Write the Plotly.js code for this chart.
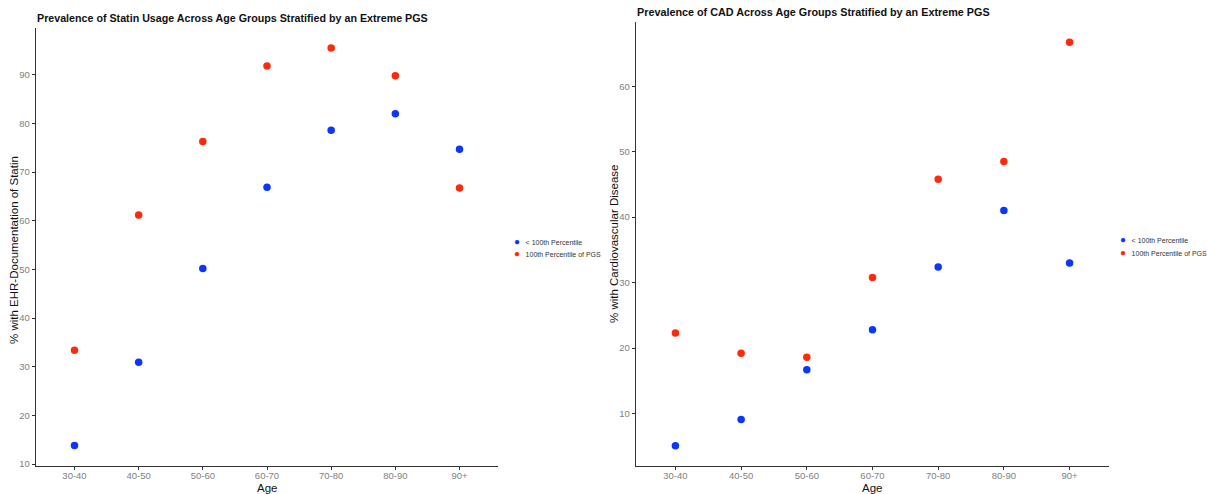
<!DOCTYPE html>
<html>
<head>
<meta charset="utf-8">
<script src="https://cdn.plot.ly/plotly-3.0.1.min.js"></script>
<style>html,body{margin:0;padding:0;background:#fff}#chart{width:1207px;height:494px}</style>
</head>
<body>
<div id="chart"></div>
<script>
const ageGroups = ["30-40","40-50","50-60","60-70","70-80","80-90","90+"];
const statinBelow = [13.8, 30.9, 50.2, 66.9, 78.6, 82.0, 74.7];
const statinTop = [33.4, 61.2, 76.3, 91.8, 95.5, 89.8, 66.7];
const cadBelow = [5.1, 9.1, 16.7, 22.8, 32.4, 41.0, 33.0];
const cadTop = [22.3, 19.2, 18.6, 30.8, 45.8, 48.5, 66.7];
const seriesNames = ["< 100th Percentile", "100th Percentile of PGS"];
const colors = ["#0a36ff", "#ff2a0a"];
const xTitle = "Age";
const yTitles = ["% with EHR-Documentation of Statin", "% with Cardiovascular Disease"];
const titles = ["Prevalence of Statin Usage Across Age Groups Stratified by an Extreme PGS",
                "Prevalence of CAD Across Age Groups Stratified by an Extreme PGS"];

const font = "Liberation Sans, Arial, sans-serif";
function tr(y, i, xa, ya){
  return {x: ageGroups, y: y, type: "scatter", mode: "markers", name: seriesNames[i],
    xaxis: xa, yaxis: ya, showlegend: false,
    marker: {color: colors[i], size: 7.5}};
}
const data = [
  tr(statinBelow, 0, "x", "y"),
  tr(statinTop, 1, "x", "y"),
  tr(cadBelow, 0, "x2", "y2"),
  tr(cadTop, 1, "x2", "y2")
];
function esc(s){ return s.replace(/&/g,"&amp;").replace(/</g,"&lt;").replace(/>/g,"&gt;"); }
function P(px, py){ return {xref: "paper", yref: "paper", x: px/1207, y: 1-py/494, showarrow: false}; }
function legendAnn(px, py, i){
  return Object.assign(P(px, py), {xanchor: "left", yanchor: "middle",
    text: '<span style="color:' + colors[i] + ';font-size:10px">●&nbsp;&nbsp;</span>' + esc(seriesNames[i]),
    font: {family: font, size: 7, color: "#333"}});
}
function textAnn(px, py, txt, size, angle, anchor){
  return Object.assign(P(px, py), {xanchor: anchor || "center", yanchor: "middle", text: txt, textangle: angle || 0,
    font: {family: font, size: size, color: "#111"}});
}
const axBase = {showgrid: false, zeroline: false, showline: true, linecolor: "#333", linewidth: 1.2,
  ticks: "outside", ticklen: 3, tickcolor: "#333", tickfont: {family: font, size: 9.5, color: "#808080"}};
const xBase = Object.assign({}, axBase, {type: "category", range: [-0.6, 6.6], ticklabelstandoff: -3});
const layout = {
  width: 1207, height: 494, margin: {l: 0, r: 0, t: 0, b: 0, autoexpand: false},
  paper_bgcolor: "#fff", plot_bgcolor: "#fff", showlegend: false,
  xaxis: Object.assign({}, xBase, {domain: [36/1207, 498/1207], anchor: "y"}),
  xaxis2: Object.assign({}, xBase, {domain: [636/1207, 1109/1207], anchor: "y2"}),
  yaxis: Object.assign({}, axBase, {domain: [1-466/494, 1-28/494], anchor: "x", range: [9.6, 99.6], dtick: 10}),
  yaxis2: Object.assign({}, axBase, {domain: [1-466/494, 1-22/494], anchor: "x2", range: [2.0, 69.8], dtick: 10, tick0: 0}),
  annotations: [
    textAnn(35, 18, "<b>" + titles[0] + "</b>", 10.7, 0, "left"),
    textAnn(635, 12, "<b>" + titles[1] + "</b>", 10.8, 0, "left"),
    textAnn(267, 488, xTitle, 11.5),
    textAnn(872, 488, xTitle, 11.5),
    textAnn(14, 250, yTitles[0], 11.5, -90),
    textAnn(614, 244, yTitles[1], 11.5, -90),
    legendAnn(512, 241, 0), legendAnn(512, 254, 1),
    legendAnn(1118, 239, 0), legendAnn(1118, 252, 1)
  ]
};
Plotly.newPlot("chart", data, layout, {displayModeBar: false, staticPlot: true});
</script>
</body>
</html>
